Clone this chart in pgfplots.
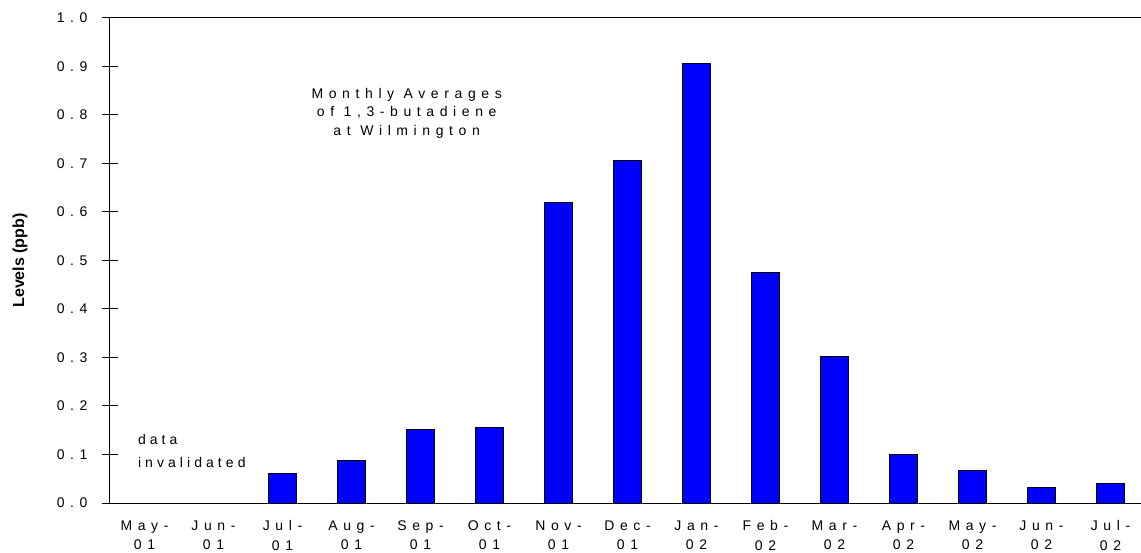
\documentclass[border=0pt]{standalone}
\usepackage{fontspec}
\setmainfont{Liberation Sans}
\newfontfamily\spaced[LetterSpace=40]{Liberation Sans}
\newfontfamily\spacedb[LetterSpace=29]{Liberation Sans}
\usepackage{pgfplots}
\pgfplotsset{compat=1.18}
\definecolor{barblue}{RGB}{0,0,255}
\begin{document}
\begin{tikzpicture}
\begin{axis}[
  name=ax, at={(0,0)}, anchor=south west,
  x=69pt, y=485pt,
  xmin=-0.5, xmax=14.5, ymin=0, ymax=1,
  axis line style={line width=1pt, black},
  ybar, bar width=28pt,
  clip=false,
  xtick={0,1,2,3,4,5,6,7,8,9,10,11,12,13,14},
  xticklabels={{May-\\01},{Jun-\\01},{Jul-\\01},{Aug-\\01},{Sep-\\01},{Oct-\\01},{Nov-\\01},{Dec-\\01},{Jan-\\02},{Feb-\\02},{Mar-\\02},{Apr-\\02},{May-\\02},{Jun-\\02},{Jul-\\02}},
  xticklabel style={align=center, font=\spaced\fontsize{14}{19.5}\selectfont, yshift=-6pt},
  xtick style={draw=none},
  xtick pos=bottom, ytick pos=left,
  ytick={0,0.1,0.2,0.3,0.4,0.5,0.6,0.7,0.8,0.9,1.0},
  yticklabels={0.0,0.1,0.2,0.3,0.4,0.5,0.6,0.7,0.8,0.9,1.0},
  yticklabel style={font=\spaced\fontsize{14}{16}\selectfont, xshift=-11pt},
  ytick style={black, line width=1pt},
  major tick length=16pt,
  tick align=center,
  ylabel={Levels (ppb)},
  ylabel style={at={([xshift=-90pt]axis description cs:0,0.5)}, anchor=center, font=\bfseries\fontsize{16}{18}\selectfont},
]
\addplot[fill=barblue, draw=black, line width=1pt] coordinates {
  (2,0.060) (3,0.087) (4,0.151) (5,0.156) (6,0.620) (7,0.707) (8,0.907)
  (9,0.476) (10,0.302) (11,0.099) (12,0.066) (13,0.032) (14,0.041)
};
\node[align=center, font=\spaced\fontsize{14}{18.5}\selectfont] at (axis cs:3.8,0.804)
  {Monthly Averages\\of 1,3-butadiene\\at Wilmington};
\node[align=left, anchor=west, font=\spacedb\fontsize{14}{23}\selectfont] at (axis cs:-0.145,0.107)
  {data\\invalidated};
\end{axis}
\pgfresetboundingbox
\path (-110pt,-49pt) rectangle (1031pt,503pt);
\end{tikzpicture}
\end{document}
